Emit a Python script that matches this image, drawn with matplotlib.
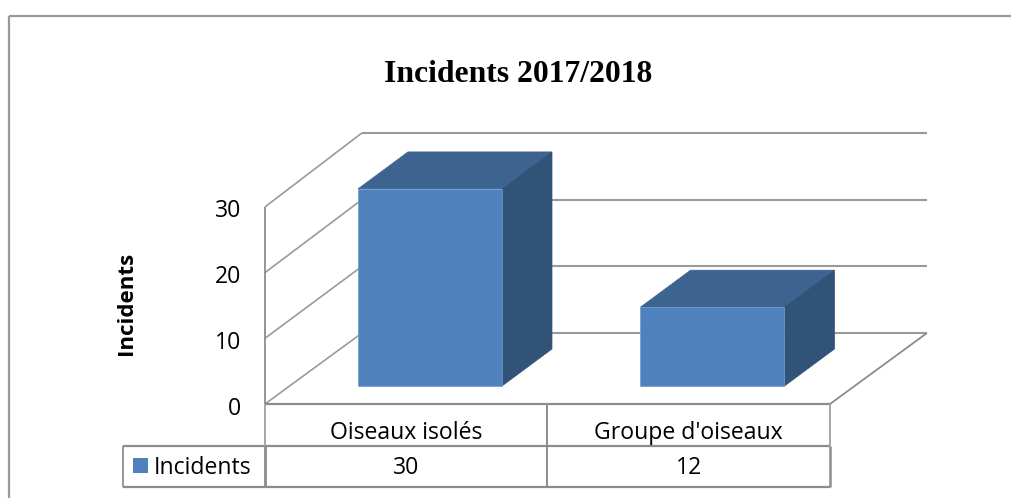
import matplotlib
matplotlib.use("Agg")
import matplotlib.pyplot as plt
from matplotlib.patches import Polygon, Rectangle

title = "Incidents 2017/2018"
y_label = "Incidents"
series_name = "Incidents"
categories = ["Oiseaux isolés", "Groupe d'oiseaux"]
values = [30, 12]
y_ticks = [0, 10, 20, 30]

FRONT = "#4f81bd"
TOP = "#3d6390"
SIDE = "#325378"
GREY = "#8c8c8c"
FONT = "Open Sans"

# pixel layout of the fake 3d box
X0, X1 = 265, 830
Y0 = 404
PX_PER_UNIT = 6.57
BACK_PX_PER_UNIT = 6.67
DEPTH_X, DEPTH_Y = 97, -71
BAR_DX, BAR_DY = 50, -37
BAR_W = 144
BAR_BOTTOM = 386


def val_y(v, base=Y0, scale=PX_PER_UNIT):
    return base - v * scale


def line(ax, xs, ys, lw=1.3, color=GREY):
    ax.plot(xs, ys, color=color, lw=lw, solid_capstyle="butt", zorder=1)


fig = plt.figure(figsize=(10.12, 4.98), dpi=100)
ax = fig.add_axes([0, 0, 1, 1])
ax.set_xlim(0, 1012)
ax.set_ylim(498, 0)
ax.axis("off")

# outer frame, cut by the picture edges
line(ax, [9.5, 9.5], [498, 15.5], 1.6, "#999999")
line(ax, [9.5, 1012], [15.5, 15.5], 1.6, "#999999")

# side wall and gridlines
for t in y_ticks:
    y = val_y(t)
    y_back = val_y(t, Y0 + DEPTH_Y, BACK_PX_PER_UNIT)
    line(ax, [X0, X0 + DEPTH_X], [y, y_back], 1.2, "#9a9a9a")
    line(ax, [X0 + DEPTH_X, X1 + DEPTH_X], [y_back, y_back], 1.5, "#9a9a9a")
    ax.text(241, y + 4.5, str(t), ha="right", va="center", fontsize=16.6, family=FONT, color="black")
line(ax, [X0, X0], [val_y(y_ticks[-1]), Y0], 1.3)
line(ax, [X1, X1 + DEPTH_X], [Y0, Y0 + DEPTH_Y], 1.3)

# bars
for i, v in enumerate(values):
    left = 358 + i * 282.5
    right = left + BAR_W
    top = val_y(v, BAR_BOTTOM)
    ax.add_patch(Polygon([(left, top), (right, top), (right + BAR_DX, top + BAR_DY),
                          (left + BAR_DX, top + BAR_DY)], fc=TOP, ec=TOP, lw=0.5, zorder=2))
    ax.add_patch(Polygon([(right, top), (right + BAR_DX, top + BAR_DY),
                          (right + BAR_DX, BAR_BOTTOM + BAR_DY), (right, BAR_BOTTOM)],
                         fc=SIDE, ec=SIDE, lw=0.5, zorder=2))
    ax.add_patch(Rectangle((left, top), BAR_W, BAR_BOTTOM - top, fc=FRONT, ec="#6f9ad0", lw=0.5, zorder=3))

# data table under the plot
ROW1, ROW2, ROW3 = 404, 446, 487
TABLE_L = 123
MID = (X0 + X1) / 2
line(ax, [X0, X1], [ROW1, ROW1], 1.6)
line(ax, [TABLE_L, X1], [ROW2, ROW2], 1.6)
line(ax, [TABLE_L, X1], [ROW3, ROW3], 1.6)
line(ax, [TABLE_L, TABLE_L], [ROW2, ROW3], 1.3)
line(ax, [X0, X0], [ROW1, ROW2], 1.3, "#a0a0a0")
line(ax, [X0, X0], [ROW2, ROW3], 2.0)
line(ax, [MID, MID], [ROW1, ROW3], 1.4)
line(ax, [X1, X1], [ROW1, ROW2], 1.3, "#a0a0a0")
line(ax, [X1, X1], [ROW2, ROW3], 1.8)

centers = [(X0 + MID) / 2, (MID + X1) / 2]
for c, name, v in zip(centers, categories, values):
    ax.text(c, 433, name, ha="center", va="center", fontsize=16.6, family=FONT, color="black")
    ax.text(c, 468, str(v), ha="center", va="center", fontsize=16.6, family=FONT, color="black")

# legend key inside the table
ax.add_patch(Rectangle((133, 458), 15, 15, fc=FRONT, ec="none", zorder=3))
ax.text(154, 468, series_name, ha="left", va="center", fontsize=16.6, family=FONT, color="black")

ax.text(127, 303, y_label, rotation=90, ha="center", va="center", fontsize=16.1, fontweight="bold", family=FONT, color="black")
ax.text(518, 74, title, ha="center", va="center", fontsize=22.8, fontweight="bold", family="Liberation Serif", color="black")

fig.savefig("out.png", dpi=100)
